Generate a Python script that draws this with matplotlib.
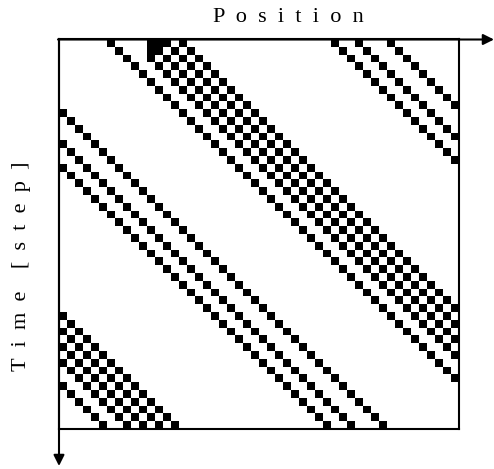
import numpy as np
import matplotlib.pyplot as plt

n_cells = 50
n_steps = 50
cars_start = [6, 11, 12, 13, 15, 34, 37, 41]

x_label = "P  o  s  i  t  i  o  n"
y_label = "T  i  m  e    [  s  t  e  p  ]"

road = np.zeros(n_cells, dtype=int)
road[cars_start] = 1
rows = []
for t in range(n_steps):
    rows.append(road.copy())
    ahead = np.roll(road, -1)
    behind = np.roll(road, 1)
    # a car stays if blocked, an empty cell gets the car from behind
    road = (road & ahead) | (behind & (1 - road))
grid = np.array(rows)

W, H = 494, 469
fig = plt.figure(figsize=(W / 100, H / 100), dpi=100)
ax = fig.add_axes([59 / W, 40 / H, 400 / W, 389.5 / H])
ax.imshow(grid, cmap='binary', interpolation='nearest', aspect='auto', vmin=0, vmax=1)
ax.set_xticks([])
ax.set_yticks([])
for s in ax.spines.values():
    s.set_linewidth(1.5)

# axis arrows
ax.annotate('', xy=(494, H - 39.5), xytext=(58, H - 39.5), xycoords='figure pixels',
            arrowprops=dict(arrowstyle='-|>', color='k', lw=1.5, mutation_scale=16,
                            shrinkA=0, shrinkB=0), annotation_clip=False)
ax.annotate('', xy=(59, 3), xytext=(59, H - 39), xycoords='figure pixels',
            arrowprops=dict(arrowstyle='-|>', color='k', lw=1.5, mutation_scale=16,
                            shrinkA=0, shrinkB=0), annotation_clip=False)

fig.text(288 / W, 1 - 18 / H, x_label, ha='center', va='center',
         family='Liberation Serif', fontsize=16)
fig.text(22 / W, 1 - 266 / H, y_label, ha='center', va='center', rotation=90,
         family='Liberation Serif', fontsize=16)

fig.savefig('out.png', dpi=100)
